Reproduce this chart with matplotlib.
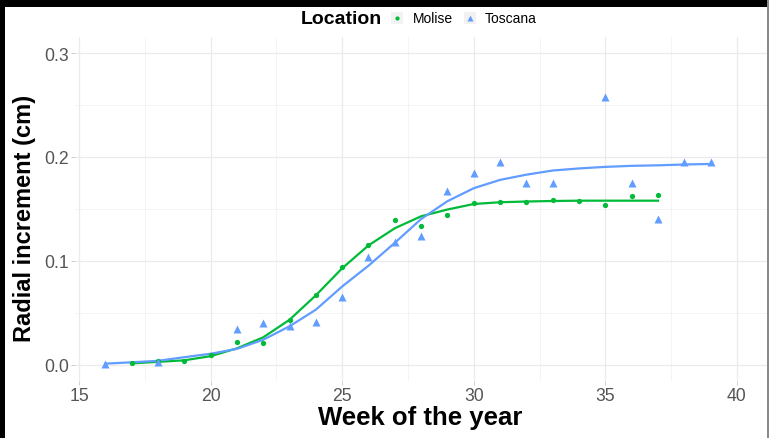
import matplotlib
matplotlib.use("Agg")
import matplotlib.pyplot as plt
from matplotlib.lines import Line2D
from matplotlib.patches import Rectangle

plt.rcParams['font.family'] = ['Liberation Sans', 'DejaVu Sans']

# Observed radial increments per week
molise_weeks = [17, 18, 19, 20, 21, 22, 23, 24, 25, 26, 27, 28, 29, 30, 31, 32, 33, 34, 35, 36, 37]
molise_vals = [0.002, 0.004, 0.004, 0.0095, 0.0225, 0.021, 0.0433, 0.0676, 0.0944, 0.115, 0.1394,
               0.134, 0.1442, 0.156, 0.1567, 0.1564, 0.159, 0.1574, 0.1538, 0.1625, 0.1635]

toscana_weeks = [16, 18, 21, 22, 23, 24, 25, 26, 27, 28, 29, 30, 31, 32, 33, 35, 36, 37, 38, 39]
toscana_vals = [0.0013, 0.0025, 0.0346, 0.0404, 0.0378, 0.0415, 0.065, 0.1038, 0.1186, 0.1237,
                0.1676, 0.185, 0.195, 0.1747, 0.175, 0.2574, 0.1747, 0.140, 0.1955, 0.1952]

# Fitted growth curves, evaluated at each week
molise_fit_weeks = list(range(17, 38))
molise_fit = [0.0016, 0.003, 0.0045, 0.0085, 0.016, 0.0266, 0.0435, 0.067, 0.093, 0.115, 0.1315,
              0.143, 0.1495, 0.1548, 0.1565, 0.1572, 0.1577, 0.158, 0.158, 0.158, 0.158]

toscana_fit_weeks = list(range(16, 40))
toscana_fit = [0.0013, 0.0026, 0.004, 0.0075, 0.0108, 0.0155, 0.0243, 0.0372, 0.0532, 0.0755,
               0.0955, 0.1175, 0.1404, 0.1575, 0.170, 0.178, 0.183, 0.187, 0.189, 0.1905,
               0.1915, 0.192, 0.1928, 0.1933]

x_ticks = [15, 20, 25, 30, 35, 40]
y_ticks = [0.0, 0.1, 0.2, 0.3]
y_tick_labels = ["0.0", "0.1", "0.2", "0.3"]

GREEN = "#00BA38"
BLUE = "#619CFF"
W, H = 769, 439

fig = plt.figure(figsize=(W / 100, H / 100), dpi=100)
fig.patch.set_facecolor("white")

ax = fig.add_axes([75 / W, (H - 381.6) / H, (768 - 75) / W, (381.6 - 38.4) / H])
ax.set_xlim(14.848, 41.18)
ax.set_ylim(-0.015, 0.315)

# grid
for v in [17.5, 22.5, 27.5, 32.5, 37.5]:
    ax.axvline(v, color="#f3f3f3", lw=0.6, zorder=0)
for v in [0.05, 0.15, 0.25]:
    ax.axhline(v, color="#f3f3f3", lw=0.6, zorder=0)
for v in x_ticks:
    ax.axvline(v, color="#ebebeb", lw=0.9, zorder=0)
for v in y_ticks:
    ax.axhline(v, color="#ebebeb", lw=0.9, zorder=0)

for s in ax.spines.values():
    s.set_visible(False)

ax.set_xticks(x_ticks)
ax.set_yticks(y_ticks)
ax.set_yticklabels(y_tick_labels)
ax.tick_params(axis="both", length=3, width=0.6, color="#c8c8c8",
               labelsize=12.7, labelcolor="#555555", pad=1.5)

ax.plot(molise_fit_weeks, molise_fit, color=GREEN, lw=1.6, zorder=3)
ax.plot(toscana_fit_weeks, toscana_fit, color=BLUE, lw=1.6, zorder=3)
ax.plot(molise_weeks, molise_vals, 'o', color=GREEN, ms=3.8, mec="none", zorder=4)
ax.plot(toscana_weeks, toscana_vals, '^', color=BLUE, ms=5.6, mec="none", zorder=4)

ax.set_xlabel("Week of the year", fontsize=18.5, fontweight="bold")
ax.set_ylabel("Radial increment (cm)", fontsize=17, fontweight="bold")
ax.xaxis.set_label_coords(420 / W, (H - 418) / H, transform=fig.transFigure)
ax.xaxis.label.set_va("center")
ax.yaxis.set_label_coords(25 / W, (H - 218) / H, transform=fig.transFigure)
ax.yaxis.label.set_va("center")

# legend along the top
ly = 1 - 19 / H
fig.text(301 / W, ly, "Location", fontsize=14, fontweight="bold", va="center", ha="left")
for kx in (397, 470):
    fig.patches.append(Rectangle(((kx - 6) / W, ly - 6 / H), 12 / W, 12 / H,
                                 transform=fig.transFigure, facecolor="#f2f2f2",
                                 edgecolor="none"))
fig.lines.append(Line2D([397 / W], [ly], transform=fig.transFigure, marker='o',
                        color=GREEN, ms=3, mec="none", ls="none"))
fig.lines.append(Line2D([470 / W], [ly], transform=fig.transFigure, marker='^',
                        color=BLUE, ms=4, mec="none", ls="none"))
fig.text(413 / W, ly, "Molise", fontsize=10, va="center", ha="left")
fig.text(485 / W, ly, "Toscana", fontsize=10, va="center", ha="left")

# frame edges
fig.patches.append(Rectangle((0, 1 - 7.5 / H), 1, 7.5 / H, transform=fig.transFigure,
                             facecolor="black", edgecolor="none", zorder=10))
fig.patches.append(Rectangle((0, 0), 5 / W, 1, transform=fig.transFigure,
                             facecolor="black", edgecolor="none", zorder=10))
fig.patches.append(Rectangle((767 / W, 0), 2 / W, 1, transform=fig.transFigure,
                             facecolor="#8a8a8a", edgecolor="none", zorder=10))

fig.savefig("out.png", dpi=100, facecolor="white")
